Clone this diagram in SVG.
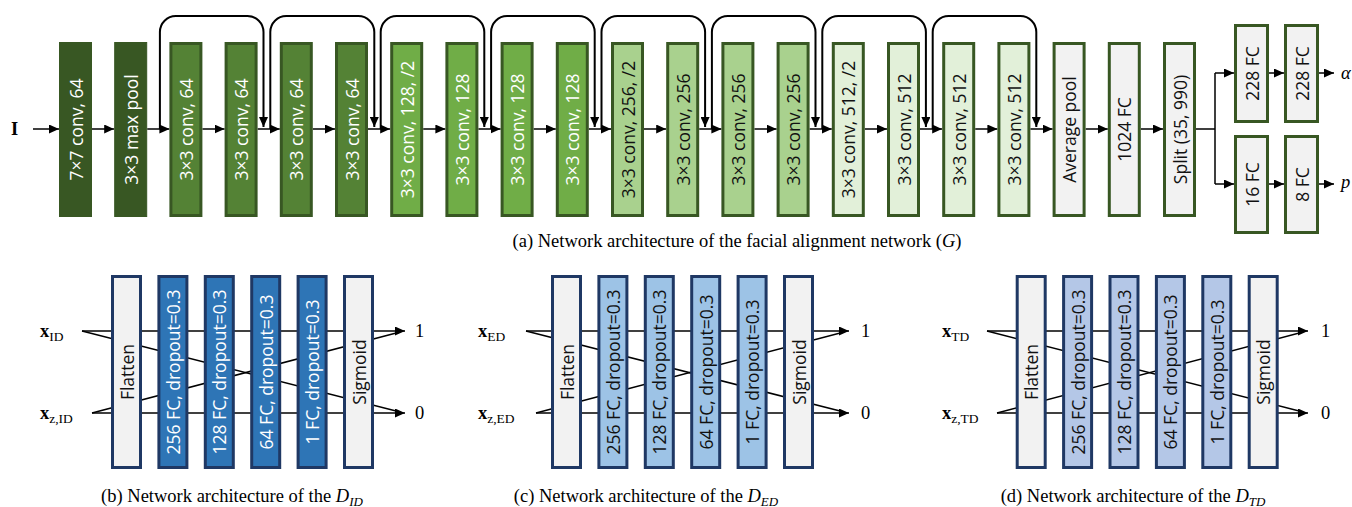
<svg xmlns="http://www.w3.org/2000/svg" width="1352" height="507" viewBox="0 0 1352 507">
<defs>
<marker id="ah" markerUnits="userSpaceOnUse" markerWidth="10" markerHeight="9" refX="10" refY="4.5" orient="auto">
<path d="M0,0 L10,4.5 L0,9 z" fill="#000"/>
</marker>
<style>
.bx{stroke:#385723;stroke-width:3}
.d0{fill:#385723;stroke:#385723;stroke-width:1}
.g1{fill:#548235}
.g2{fill:#70AD47}
.g3{fill:#A9D18E}
.g4{fill:#E2F0D9}
.gy{fill:#F2F2F2}
.nb{stroke:#1F3864;stroke-width:3}
.b1{fill:#2E75B6}
.b2{fill:#9DC3E6}
.b3{fill:#B4C7E7}
.t{font-family:"Open Sans","Noto Sans",sans-serif;font-size:17.5px;text-anchor:middle;dominant-baseline:central}
.w{fill:#fff}
.k{fill:#111}
.ln{stroke:#000;stroke-width:1.5;fill:none}
.ar{stroke:#000;stroke-width:1.5;fill:none;marker-end:url(#ah)}
.sk{stroke:#000;stroke-width:2;fill:none;marker-end:url(#ah)}
.sf{font-family:"Liberation Serif","Times New Roman",serif;font-size:18.5px;fill:#000}
.cap{font-family:"Liberation Serif","Times New Roman",serif;font-size:18.5px;fill:#000;text-anchor:middle}
</style>
</defs>

<g id="connectors">
<line class="ar" x1="33" y1="129" x2="59" y2="129"/>
<line class="ar" x1="92" y1="129" x2="114.2" y2="129"/>
<line class="ar" x1="147.2" y1="129" x2="169.4" y2="129"/>
<line class="ar" x1="202.4" y1="129" x2="224.6" y2="129"/>
<line class="ar" x1="257.6" y1="129" x2="279.8" y2="129"/>
<line class="ar" x1="312.8" y1="129" x2="335" y2="129"/>
<line class="ar" x1="368" y1="129" x2="390.2" y2="129"/>
<line class="ar" x1="423.2" y1="129" x2="445.4" y2="129"/>
<line class="ar" x1="478.4" y1="129" x2="500.6" y2="129"/>
<line class="ar" x1="533.6" y1="129" x2="555.8" y2="129"/>
<line class="ar" x1="588.8" y1="129" x2="611" y2="129"/>
<line class="ar" x1="644" y1="129" x2="666.2" y2="129"/>
<line class="ar" x1="699.2" y1="129" x2="721.4" y2="129"/>
<line class="ar" x1="754.4" y1="129" x2="776.6" y2="129"/>
<line class="ar" x1="809.6" y1="129" x2="831.8" y2="129"/>
<line class="ar" x1="864.8" y1="129" x2="887" y2="129"/>
<line class="ar" x1="920" y1="129" x2="942.2" y2="129"/>
<line class="ar" x1="975.2" y1="129" x2="997.4" y2="129"/>
<line class="ar" x1="1030.4" y1="129" x2="1052.6" y2="129"/>
<line class="ar" x1="1085.6" y1="129" x2="1107.8" y2="129"/>
<line class="ar" x1="1140.8" y1="129" x2="1163" y2="129"/>
<path class="sk" d="M159.9,129 V32 A16,16 0 0 1 175.9,16 H247.5 A16,16 0 0 1 263.5,32 V127"/>
<path class="sk" d="M270.3,129 V32 A16,16 0 0 1 286.3,16 H358.3 A16,16 0 0 1 374.3,32 V127"/>
<path class="sk" d="M380.7,129 V32 A16,16 0 0 1 396.7,16 H468.3 A16,16 0 0 1 484.3,32 V127"/>
<path class="sk" d="M491.1,129 V32 A16,16 0 0 1 507.1,16 H578.7 A16,16 0 0 1 594.7,32 V127"/>
<path class="sk" d="M601.5,129 V32 A16,16 0 0 1 617.5,16 H689.1 A16,16 0 0 1 705.1,32 V127"/>
<path class="sk" d="M711.9,129 V32 A16,16 0 0 1 727.9,16 H799.5 A16,16 0 0 1 815.5,32 V127"/>
<path class="sk" d="M822.3,129 V32 A16,16 0 0 1 838.3,16 H909.9 A16,16 0 0 1 925.9,32 V127"/>
<path class="sk" d="M932.7,129 V32 A16,16 0 0 1 948.7,16 H1020.3 A16,16 0 0 1 1036.3,32 V127"/>
<path class="ln" d="M1196,129 H1215 M1215,73 V184"/>
<line class="ar" x1="1215" y1="73" x2="1234" y2="73"/>
<line class="ar" x1="1215" y1="184" x2="1234" y2="184"/>
<line class="ar" x1="1269" y1="73" x2="1284" y2="73"/>
<line class="ar" x1="1269" y1="184" x2="1284" y2="184"/>
<line class="ar" x1="1319" y1="73" x2="1334" y2="73"/>
<line class="ar" x1="1319" y1="184" x2="1334" y2="184"/>
<line class="ar" x1="82" y1="331" x2="405" y2="331"/>
<line class="ar" x1="92" y1="413" x2="405" y2="413"/>
<line class="ln" x1="82" y1="331" x2="400" y2="412"/>
<line class="ln" x1="92" y1="413" x2="400" y2="332"/>
<line class="ar" x1="526" y1="331" x2="849" y2="331"/>
<line class="ar" x1="536" y1="413" x2="849" y2="413"/>
<line class="ln" x1="526" y1="331" x2="844" y2="412"/>
<line class="ln" x1="536" y1="413" x2="844" y2="332"/>
<line class="ar" x1="987" y1="331" x2="1308" y2="331"/>
<line class="ar" x1="997" y1="413" x2="1308" y2="413"/>
<line class="ln" x1="987" y1="331" x2="1303" y2="412"/>
<line class="ln" x1="997" y1="413" x2="1303" y2="332"/>
</g>

<g id="n0"><rect class="d0" x="59.5" y="42.5" width="32" height="174"/><text class="t w" transform="translate(75.5,129.5) rotate(-90)">7×7 conv, 64</text></g>
<g id="n1"><rect class="d0" x="114.7" y="42.5" width="32" height="174"/><text class="t w" transform="translate(130.7,129.5) rotate(-90)">3×3 max pool</text></g>
<g id="n2"><rect class="bx g1" x="170.9" y="43.5" width="30" height="172"/><text class="t w" transform="translate(185.9,129.5) rotate(-90)">3×3 conv, 64</text></g>
<g id="n3"><rect class="bx g1" x="226.1" y="43.5" width="30" height="172"/><text class="t w" transform="translate(241.1,129.5) rotate(-90)">3×3 conv, 64</text></g>
<g id="n4"><rect class="bx g1" x="281.3" y="43.5" width="30" height="172"/><text class="t w" transform="translate(296.3,129.5) rotate(-90)">3×3 conv, 64</text></g>
<g id="n5"><rect class="bx g1" x="336.5" y="43.5" width="30" height="172"/><text class="t w" transform="translate(351.5,129.5) rotate(-90)">3×3 conv, 64</text></g>
<g id="n6"><rect class="bx g2" x="391.7" y="43.5" width="30" height="172"/><text class="t w" transform="translate(406.7,129.5) rotate(-90)">3×3 conv, 128, /2</text></g>
<g id="n7"><rect class="bx g2" x="446.9" y="43.5" width="30" height="172"/><text class="t w" transform="translate(461.9,129.5) rotate(-90)">3×3 conv, 128</text></g>
<g id="n8"><rect class="bx g2" x="502.1" y="43.5" width="30" height="172"/><text class="t w" transform="translate(517.1,129.5) rotate(-90)">3×3 conv, 128</text></g>
<g id="n9"><rect class="bx g2" x="557.3" y="43.5" width="30" height="172"/><text class="t w" transform="translate(572.3,129.5) rotate(-90)">3×3 conv, 128</text></g>
<g id="n10"><rect class="bx g3" x="612.5" y="43.5" width="30" height="172"/><text class="t k" transform="translate(627.5,129.5) rotate(-90)">3×3 conv, 256, /2</text></g>
<g id="n11"><rect class="bx g3" x="667.7" y="43.5" width="30" height="172"/><text class="t k" transform="translate(682.7,129.5) rotate(-90)">3×3 conv, 256</text></g>
<g id="n12"><rect class="bx g3" x="722.9" y="43.5" width="30" height="172"/><text class="t k" transform="translate(737.9,129.5) rotate(-90)">3×3 conv, 256</text></g>
<g id="n13"><rect class="bx g3" x="778.1" y="43.5" width="30" height="172"/><text class="t k" transform="translate(793.1,129.5) rotate(-90)">3×3 conv, 256</text></g>
<g id="n14"><rect class="bx g4" x="833.3" y="43.5" width="30" height="172"/><text class="t k" transform="translate(848.3,129.5) rotate(-90)">3×3 conv, 512, /2</text></g>
<g id="n15"><rect class="bx g4" x="888.5" y="43.5" width="30" height="172"/><text class="t k" transform="translate(903.5,129.5) rotate(-90)">3×3 conv, 512</text></g>
<g id="n16"><rect class="bx g4" x="943.7" y="43.5" width="30" height="172"/><text class="t k" transform="translate(958.7,129.5) rotate(-90)">3×3 conv, 512</text></g>
<g id="n17"><rect class="bx g4" x="998.9" y="43.5" width="30" height="172"/><text class="t k" transform="translate(1013.9,129.5) rotate(-90)">3×3 conv, 512</text></g>
<g id="n18"><rect class="bx gy" x="1054.1" y="43.5" width="30" height="172"/><text class="t k" transform="translate(1069.1,129.5) rotate(-90)">Average pool</text></g>
<g id="n19"><rect class="bx gy" x="1109.3" y="43.5" width="30" height="172"/><text class="t k" transform="translate(1124.3,129.5) rotate(-90)">1024 FC</text></g>
<g id="n20"><rect class="bx gy" x="1164.5" y="43.5" width="30" height="172"/><text class="t k" transform="translate(1179.5,129.5) rotate(-90)">Split (35, 990)</text></g>
<g id="n21"><rect class="bx gy" x="1235.5" y="25.5" width="32" height="96"/><text class="t k" transform="translate(1251.5,73.5) rotate(-90)">228 FC</text></g>
<g id="n22"><rect class="bx gy" x="1285.5" y="25.5" width="32" height="96"/><text class="t k" transform="translate(1301.5,73.5) rotate(-90)">228 FC</text></g>
<g id="n23"><rect class="bx gy" x="1235.5" y="136.5" width="32" height="96"/><text class="t k" transform="translate(1251.5,184.5) rotate(-90)">16 FC</text></g>
<g id="n24"><rect class="bx gy" x="1285.5" y="136.5" width="32" height="96"/><text class="t k" transform="translate(1301.5,184.5) rotate(-90)">8 FC</text></g>

<g id="labels-top">
<text class="sf" x="11" y="135" font-weight="bold">I</text>
<text class="sf" x="1341" y="79" font-style="italic">α</text>
<text class="sf" x="1341" y="188" font-style="italic">p</text>
<text class="cap" x="737" y="247">(a) Network architecture of the facial alignment network (<tspan font-style="italic">G</tspan>)</text>
</g>

<g id="b-flatten"><rect class="nb gy" x="112.5" y="276.5" width="28" height="191"/><text class="t k" transform="translate(126.5,372) rotate(-90)">Flatten</text></g>
<g id="b-fc256"><rect class="nb b1" x="158.9" y="276.5" width="28" height="191"/><text class="t w" transform="translate(172.9,372) rotate(-90)">256 FC, dropout=0.3</text></g>
<g id="b-fc128"><rect class="nb b1" x="205.3" y="276.5" width="28" height="191"/><text class="t w" transform="translate(219.3,372) rotate(-90)">128 FC, dropout=0.3</text></g>
<g id="b-fc64"><rect class="nb b1" x="251.7" y="276.5" width="28" height="191"/><text class="t w" transform="translate(265.7,372) rotate(-90)">64 FC, dropout=0.3</text></g>
<g id="b-fc1"><rect class="nb b1" x="298.1" y="276.5" width="28" height="191"/><text class="t w" transform="translate(312.1,372) rotate(-90)">1 FC, dropout=0.3</text></g>
<g id="b-sigmoid"><rect class="nb gy" x="344.5" y="276.5" width="28" height="191"/><text class="t k" transform="translate(358.5,372) rotate(-90)">Sigmoid</text></g>
<g id="b-labels">
<text class="sf" x="40" y="337"><tspan font-weight="bold">x</tspan><tspan font-size="13.5" dy="4">ID</tspan></text>
<text class="sf" x="40" y="419"><tspan font-weight="bold">x</tspan><tspan font-size="13.5" dy="4">z,ID</tspan></text>
<text class="sf" x="415" y="337">1</text>
<text class="sf" x="415" y="419">0</text>
<text class="cap" x="232" y="502">(b) Network architecture of the <tspan font-style="italic">D</tspan><tspan font-style="italic" font-size="13" dy="4">ID</tspan></text>
</g>

<g id="c-flatten"><rect class="nb gy" x="552.5" y="276.5" width="28" height="191"/><text class="t k" transform="translate(566.5,372) rotate(-90)">Flatten</text></g>
<g id="c-fc256"><rect class="nb b2" x="598.9" y="276.5" width="28" height="191"/><text class="t k" transform="translate(612.9,372) rotate(-90)">256 FC, dropout=0.3</text></g>
<g id="c-fc128"><rect class="nb b2" x="645.3" y="276.5" width="28" height="191"/><text class="t k" transform="translate(659.3,372) rotate(-90)">128 FC, dropout=0.3</text></g>
<g id="c-fc64"><rect class="nb b2" x="691.7" y="276.5" width="28" height="191"/><text class="t k" transform="translate(705.7,372) rotate(-90)">64 FC, dropout=0.3</text></g>
<g id="c-fc1"><rect class="nb b2" x="738.1" y="276.5" width="28" height="191"/><text class="t k" transform="translate(752.1,372) rotate(-90)">1 FC, dropout=0.3</text></g>
<g id="c-sigmoid"><rect class="nb gy" x="784.5" y="276.5" width="28" height="191"/><text class="t k" transform="translate(798.5,372) rotate(-90)">Sigmoid</text></g>
<g id="c-labels">
<text class="sf" x="478" y="337"><tspan font-weight="bold">x</tspan><tspan font-size="13.5" dy="4">ED</tspan></text>
<text class="sf" x="478" y="419"><tspan font-weight="bold">x</tspan><tspan font-size="13.5" dy="4">z,ED</tspan></text>
<text class="sf" x="861" y="337">1</text>
<text class="sf" x="861" y="419">0</text>
<text class="cap" x="646" y="502">(c) Network architecture of the <tspan font-style="italic">D</tspan><tspan font-style="italic" font-size="13" dy="4">ED</tspan></text>
</g>

<g id="d-flatten"><rect class="nb gy" x="1017.2" y="276.5" width="28" height="191"/><text class="t k" transform="translate(1031.2,372) rotate(-90)">Flatten</text></g>
<g id="d-fc256"><rect class="nb b3" x="1063.6" y="276.5" width="28" height="191"/><text class="t k" transform="translate(1077.6,372) rotate(-90)">256 FC, dropout=0.3</text></g>
<g id="d-fc128"><rect class="nb b3" x="1110" y="276.5" width="28" height="191"/><text class="t k" transform="translate(1124,372) rotate(-90)">128 FC, dropout=0.3</text></g>
<g id="d-fc64"><rect class="nb b3" x="1156.4" y="276.5" width="28" height="191"/><text class="t k" transform="translate(1170.4,372) rotate(-90)">64 FC, dropout=0.3</text></g>
<g id="d-fc1"><rect class="nb b3" x="1202.8" y="276.5" width="28" height="191"/><text class="t k" transform="translate(1216.8,372) rotate(-90)">1 FC, dropout=0.3</text></g>
<g id="d-sigmoid"><rect class="nb gy" x="1249.2" y="276.5" width="28" height="191"/><text class="t k" transform="translate(1263.2,372) rotate(-90)">Sigmoid</text></g>
<g id="d-labels">
<text class="sf" x="942" y="337"><tspan font-weight="bold">x</tspan><tspan font-size="13.5" dy="4">TD</tspan></text>
<text class="sf" x="942" y="419"><tspan font-weight="bold">x</tspan><tspan font-size="13.5" dy="4">z,TD</tspan></text>
<text class="sf" x="1321" y="337">1</text>
<text class="sf" x="1321" y="419">0</text>
<text class="cap" x="1133" y="502">(d) Network architecture of the <tspan font-style="italic">D</tspan><tspan font-style="italic" font-size="13" dy="4">TD</tspan></text>
</g>
</svg>
